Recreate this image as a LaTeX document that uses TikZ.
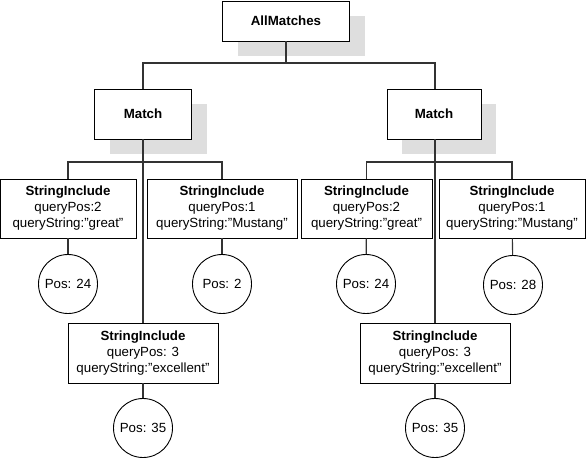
\documentclass[tikz,border=0pt]{standalone}
\usepackage{fontspec}
\setmainfont{Liberation Sans}
\usetikzlibrary{shadows}

\tikzset{
	box/.style={draw, fill=white, line width=0.9pt, inner sep=0pt, align=center, font=\fontsize{13.3}{16}\selectfont},
	shbox/.style={box, general shadow={fill=black!13, shadow xshift=15pt, shadow yshift=-15pt}},
	hit/.style={draw, circle, fill=white, line width=0.9pt, inner sep=0pt, minimum size=59pt, font=\fontsize{13.3}{16}\selectfont},
	wire/.style={draw=black!80, line width=1.1pt}
}

\newcommand{\incl}[2]{\textbf{StringInclude}\\queryPos:#1\\queryString:#2}

\begin{document}
\begin{tikzpicture}[x=1pt, y=-1pt]
	\useasboundingbox (0, 0) rectangle (586, 459);

	\node[shbox, minimum width=127pt, minimum height=40pt] (all) at (286, 21) {\textbf{AllMatches}};
	\node[shbox, minimum width=97pt, minimum height=50pt] (m1) at (143, 114) {\textbf{Match}};
	\node[shbox, minimum width=94pt, minimum height=50pt] (m2) at (434, 114) {\textbf{Match}};

	\node[box, minimum width=136pt, minimum height=59pt] (s1) at (68, 208.5) {\incl{2}{”great”}};
	\node[box, minimum width=150pt, minimum height=59pt] (s2) at (222, 208.5) {\incl{1}{”Mustang”}};
	\node[box, minimum width=131pt, minimum height=59pt] (s3) at (366.5, 208.5) {\incl{2}{”great”}};
	\node[box, minimum width=146pt, minimum height=59pt] (s4) at (512, 208.5) {\incl{1}{”Mustang”}};
	\node[box, minimum width=150pt, minimum height=60pt] (s5) at (143, 353) {\incl{ 3}{"excellent"}};
	\node[box, minimum width=150pt, minimum height=60pt] (s6) at (435, 353) {\incl{ 3}{"excellent"}};

	\node[hit] (p1) at (68, 284) {Pos: 24};
	\node[hit] (p2) at (222, 284) {Pos: 2};
	\node[hit] (p3) at (366, 284) {Pos: 24};
	\node[hit] (p4) at (513, 285) {Pos: 28};
	\node[hit] (p5) at (143, 428) {Pos: 35};
	\node[hit] (p6) at (435, 428) {Pos: 35};

	\coordinate (bar0) at (286, 63);
	\coordinate (bar1) at (143, 162);
	\coordinate (bar2) at (435, 162);

	\draw[wire] (all.south) -- (bar0);
	\draw[wire] (m1.north) |- (bar0) -| (m2.north -| bar2);
	\draw[wire] (m1.south) -- (s5.north);
	\draw[wire] (s1.north) |- (bar1) -| (s2.north);
	\draw[wire] (m2.south -| bar2) -- (s6.north);
	\draw[wire] (s3.north) |- (bar2) -| (s4.north);
	\draw[wire] (s1) -- (p1);
	\draw[wire] (s2) -- (p2);
	\draw[wire] (s3) -- (p3);
	\draw[wire] (s4) -- (p4);
	\draw[wire] (s5) -- (p5);
	\draw[wire] (s6) -- (p6);
\end{tikzpicture}
\end{document}
